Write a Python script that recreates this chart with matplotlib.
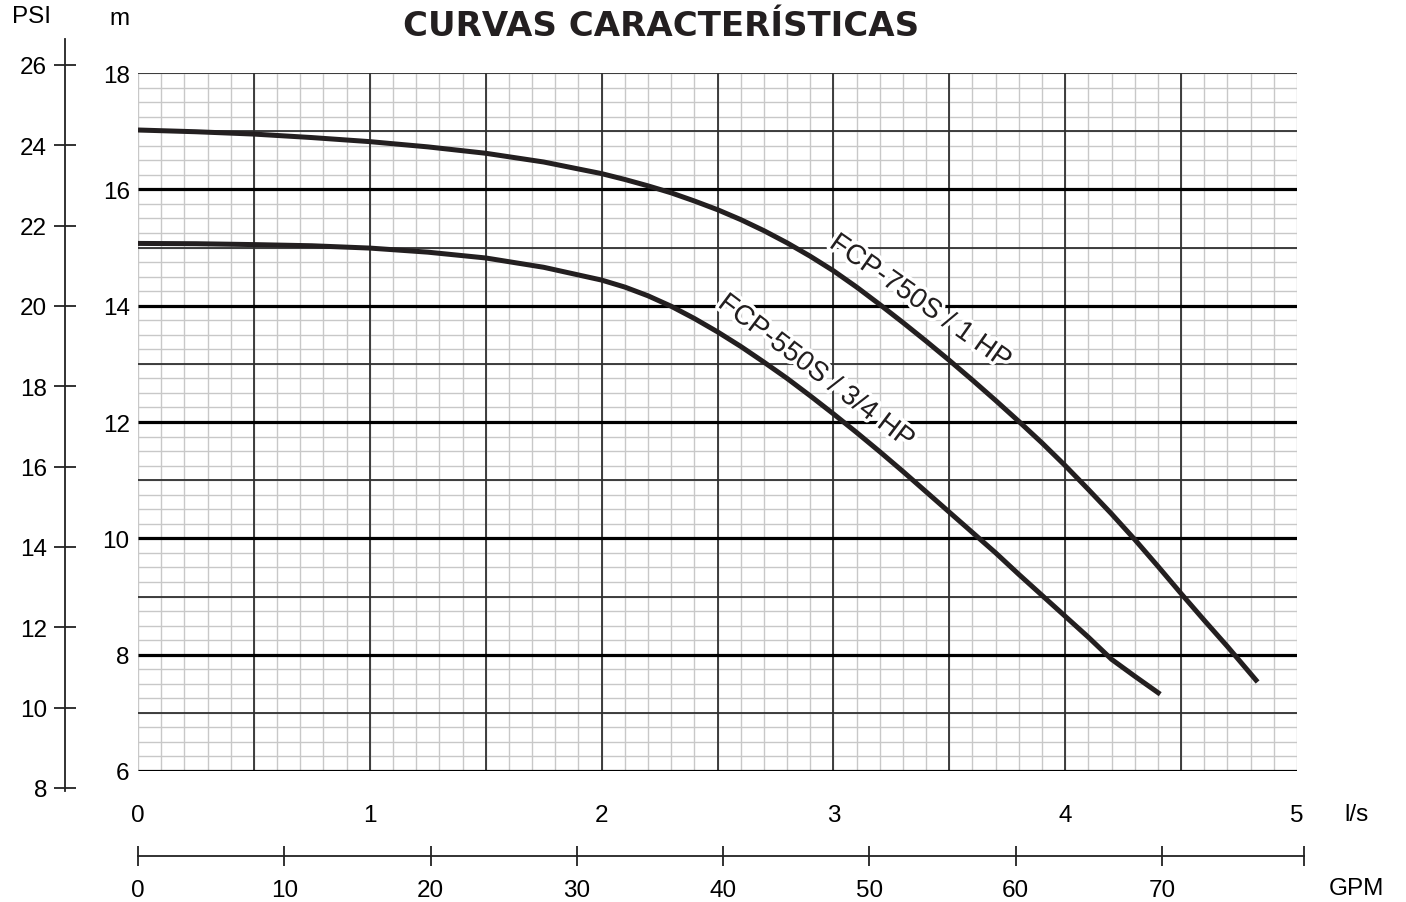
import matplotlib
matplotlib.use("Agg")
import matplotlib.pyplot as plt
import matplotlib.patheffects as pe
import numpy as np

# curve data: flow (l/s) vs head (m)
q_750 = [0, 0.25, 0.5, 0.75, 1.0, 1.25, 1.5, 1.75, 2.0, 2.1, 2.2, 2.3, 2.4,
         2.5, 2.6, 2.7, 2.8, 2.9, 3.0, 3.1, 3.2, 3.3, 3.4, 3.5, 3.6, 3.7,
         3.8, 3.9, 4.0, 4.1, 4.2, 4.3, 4.4, 4.5, 4.6, 4.7, 4.83]
h_750 = [17.02, 16.99, 16.95, 16.89, 16.82, 16.73, 16.62, 16.47, 16.27, 16.17,
         16.06, 15.94, 15.80, 15.65, 15.48, 15.29, 15.08, 14.85, 14.60, 14.32,
         14.02, 13.71, 13.39, 13.06, 12.72, 12.37, 12.01, 11.64, 11.25, 10.84,
         10.42, 9.98, 9.52, 9.05, 8.59, 8.14, 7.53]

q_550 = [0, 0.25, 0.5, 0.75, 1.0, 1.25, 1.5, 1.75, 2.0, 2.1, 2.2, 2.3, 2.4,
         2.5, 2.6, 2.7, 2.8, 2.9, 3.0, 3.1, 3.2, 3.3, 3.4, 3.5, 3.6, 3.7,
         3.8, 3.9, 4.0, 4.1, 4.2, 4.3, 4.41]
h_550 = [15.07, 15.065, 15.05, 15.03, 14.99, 14.92, 14.82, 14.66, 14.44, 14.32,
         14.17, 13.99, 13.78, 13.55, 13.30, 13.03, 12.75, 12.45, 12.14, 11.82,
         11.49, 11.15, 10.80, 10.45, 10.10, 9.75, 9.38, 9.02, 8.66, 8.30,
         7.92, 7.63, 7.32]

label_750 = "FCP-750S / 1 HP"
label_550 = "FCP-550S / 3/4 HP"

ls_ticks = [0, 1, 2, 3, 4, 5]
m_ticks = [6, 8, 10, 12, 14, 16, 18]
psi_ticks = [8, 10, 12, 14, 16, 18, 20, 22, 24, 26]
gpm_ticks = [0, 10, 20, 30, 40, 50, 60, 70]
gpm_end = 79.7

W, H = 1406, 903
FS = 17.5
plt.rcParams['font.family'] = ['Liberation Sans', 'DejaVu Sans']
fig = plt.figure(figsize=(W / 100, H / 100), dpi=100)

# main chart
ax = fig.add_axes([138 / W, 1 - 772 / H, 1159 / W, 698 / H])
ax.set_xlim(0, 5)
ax.set_ylim(6, 18)
for s in ax.spines.values():
    s.set_visible(False)

ax.set_xticks(np.arange(0, 5.01, 0.1), minor=True)
ax.set_yticks(np.arange(6, 18.01, 0.25), minor=True)
ax.xaxis.remove_overlapping_locs = False
ax.yaxis.remove_overlapping_locs = False
ax.grid(which='minor', color='#c8c8c8', lw=1.0, zorder=0)
ax.set_axisbelow(True)

ax.vlines(np.arange(0.5, 4.6, 0.5), 6, 18, color='#303030', lw=1.3, zorder=1)
ax.hlines([7, 9, 11, 13, 15, 17, 18], 0, 5, color='#303030', lw=1.3, zorder=1)
ax.hlines([6, 8, 10, 12, 14, 16], 0, 5, color='black', lw=2.3, zorder=1)

ax.set_xticks(ls_ticks)
ax.set_xticklabels([str(v) for v in ls_ticks])
ax.set_yticks(m_ticks)
ax.set_yticklabels([str(v) for v in m_ticks])
ax.tick_params(axis='x', which='both', length=0, labelsize=FS, pad=24)
ax.tick_params(axis='y', which='both', length=0, labelsize=FS, pad=6)

ax.plot(q_750, h_750, color='#231f20', lw=3.6, solid_capstyle='butt',
        solid_joinstyle='round', zorder=3)
ax.plot(q_550, h_550, color='#231f20', lw=3.6, solid_capstyle='butt',
        solid_joinstyle='round', zorder=3)

halo = [pe.withStroke(linewidth=5, foreground='white')]
ax.text(3.374, 14.06, label_750, rotation=-35, rotation_mode='anchor',
        ha='center', va='center', fontsize=20, color='#231f20',
        path_effects=halo, zorder=4)
ax.text(2.925, 12.86, label_550, rotation=-37, rotation_mode='anchor',
        ha='center', va='center', fontsize=20, color='#231f20',
        path_effects=halo, zorder=4)

# PSI scale on the left
ax_psi = fig.add_axes([65 / W, 1 - 792 / H, 10 / W, 752 / H])
ax_psi.set_ylim(7.925, 26.647)
ax_psi.set_xticks([])
for k in ['top', 'right', 'bottom']:
    ax_psi.spines[k].set_visible(False)
ax_psi.spines['left'].set_linewidth(1.3)
ax_psi.spines['left'].set_color('#222222')
ax_psi.patch.set_alpha(0)
ax_psi.set_yticks(psi_ticks)
ax_psi.set_yticklabels([str(v) for v in psi_ticks])
ax_psi.tick_params(axis='y', direction='inout', length=16, width=1.3,
                   color='#222222', labelsize=FS, pad=5)

# GPM scale at the bottom
ax_gpm = fig.add_axes([138 / W, 1 - 857 / H, 1166 / W, 0.001])
ax_gpm.set_xlim(0, gpm_end)
ax_gpm.set_yticks([])
for k in ['top', 'right', 'left']:
    ax_gpm.spines[k].set_visible(False)
ax_gpm.spines['bottom'].set_linewidth(1.3)
ax_gpm.spines['bottom'].set_color('#222222')
ax_gpm.patch.set_alpha(0)
ax_gpm.set_xticks(gpm_ticks + [gpm_end])
ax_gpm.set_xticklabels([str(v) for v in gpm_ticks] + [''])
ax_gpm.tick_params(axis='x', direction='inout', length=15, width=1.3,
                   color='#222222', labelsize=FS, pad=9)

# unit labels and title
fig.text(31 / W, 1 - 17 / H, 'PSI', ha='center', va='center', fontsize=FS)
fig.text(120 / W, 1 - 25 / H, 'm', ha='center', va='baseline', fontsize=FS)
fig.text(1356 / W, 1 - 815 / H, 'l/s', ha='center', va='center', fontsize=FS)
fig.text(1356 / W, 1 - 889 / H, 'GPM', ha='center', va='center', fontsize=FS)
fig.text(661 / W, 1 - 26 / H, 'CURVAS CARACTERÍSTICAS', ha='center', va='center',
         fontsize=24.5, fontweight='bold', family='DejaVu Sans', color='#231f20')

fig.savefig('out.png', dpi=100)
